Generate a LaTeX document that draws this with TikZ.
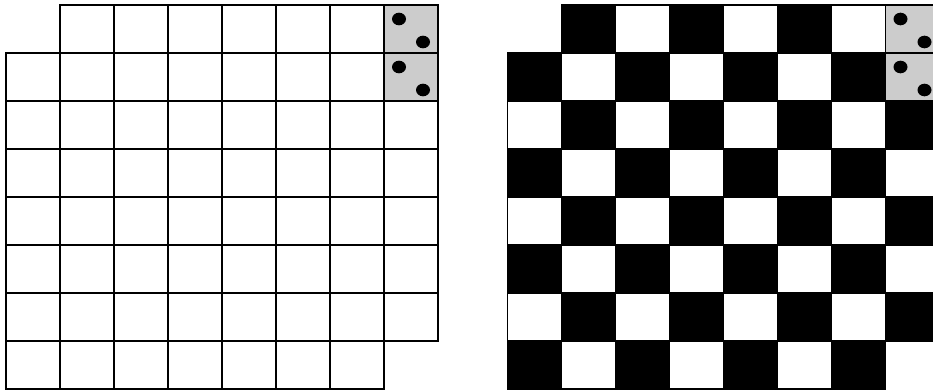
\documentclass[tikz,border=0pt]{standalone}
\begin{document}
\begin{tikzpicture}[x=1pt,y=-1pt,
  cell/.style={draw=black,line width=1.2pt},
  dotmark/.style={fill=black},
  graycell/.style={fill=black!20}]
\useasboundingbox (0,0) rectangle (933,391);
\clip (0,0) rectangle (933,391);
\def\cw{54}\def\ch{48}
% left board
\foreach \r in {0,...,7}{
  \foreach \c in {0,...,7}{
    \pgfmathtruncatemacro\skipcell{or(and(\r==0,\c==0),and(\r==7,\c==7))}
    \pgfmathtruncatemacro\gr{and(\c==7,\r<2)}
    \pgfmathsetmacro\xa{6+\c*\cw}
    \pgfmathsetmacro\ya{5+\r*\ch}
    \ifnum\skipcell=0
      \ifnum\gr=1
        \filldraw[cell,graycell] (\xa,\ya) rectangle ++(\cw,\ch);
        \fill[dotmark] (\xa+15,\ya+14) ellipse [x radius=7, y radius=6.3];
        \fill[dotmark] (\xa+39,\ya+37) ellipse [x radius=7, y radius=6.3];
      \else
        \filldraw[cell,fill=white] (\xa,\ya) rectangle ++(\cw,\ch);
      \fi
    \fi
  }
}
% right board
\foreach \r in {0,...,7}{
  \foreach \c in {0,...,7}{
    \pgfmathtruncatemacro\skipcell{or(and(\r==0,\c==0),and(\r==7,\c==7))}
    \pgfmathtruncatemacro\gr{and(\c==7,\r<2)}
    \pgfmathtruncatemacro\odd{mod(\r+\c,2)}
    \pgfmathsetmacro\xa{507.5+\c*\cw}
    \pgfmathsetmacro\ya{5+\r*\ch}
    \ifnum\skipcell=0
      \ifnum\gr=1
        \filldraw[cell,graycell] (\xa,\ya) rectangle ++(\cw,\ch);
        \fill[dotmark] (\xa+15,\ya+14) ellipse [x radius=7, y radius=6.3];
        \fill[dotmark] (\xa+39,\ya+37) ellipse [x radius=7, y radius=6.3];
      \else
        \ifnum\odd=1
          \filldraw[cell,fill=black] (\xa,\ya) rectangle ++(\cw,\ch);
        \else
          \filldraw[cell,fill=white] (\xa,\ya) rectangle ++(\cw,\ch);
        \fi
      \fi
    \fi
  }
}
\end{tikzpicture}
\end{document}
